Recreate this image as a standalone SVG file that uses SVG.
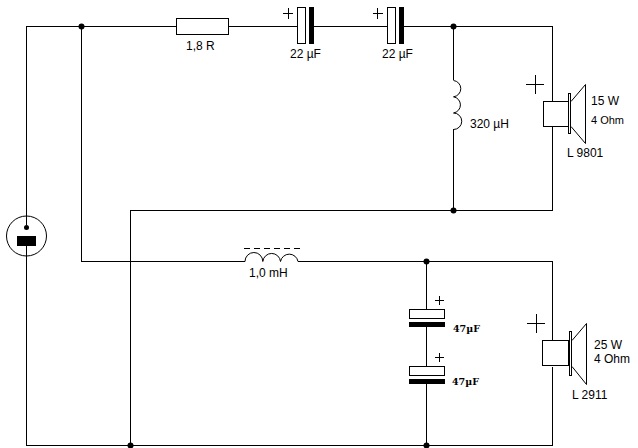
<svg xmlns="http://www.w3.org/2000/svg" width="638" height="448" viewBox="0 0 638 448">
<style>
.w{fill:none;stroke:#000;stroke-width:1}
.c{fill:none;stroke:#000;stroke-width:1}
.b{fill:#fff;stroke:#000;stroke-width:1;shape-rendering:crispEdges}
.k{fill:#000;stroke:none;shape-rendering:crispEdges}
.d{fill:#000}
.p{fill:none;stroke:#000;stroke-width:1;shape-rendering:crispEdges}
text{font-family:"Liberation Sans",Arial,sans-serif;font-size:12px;fill:#000}
text.s{font-family:"DejaVu Serif","Liberation Serif",serif;font-size:9.5px;font-weight:bold}
text.n{font-size:11px}
</style>
<rect width="638" height="448" fill="#fff"/>
<g id="connectors" class="w" shape-rendering="crispEdges">
<path class="w" d="M26.5 216V26.5H176.500M229 26.500H297.500M314 26.500H387.500M404 26.500H552.500V101.500"/>
<path class="w" d="M81.500 26.500V261.500H245M298 261.500H552.500V340.500"/>
<path class="w" d="M453.500 26.500V80M453.500 129V210.500"/>
<path class="w" d="M552.500 126.500V210.500H130.500V445.500"/>
<path class="w" d="M26.500 256V445.500H552.500V366.500"/>
<path class="w" d="M426.500 261.500V309.500M426.500 327V366.500M426.500 384V445.500"/>
</g>
<g id="junctions">
<circle class="d" cx="81.500" cy="26.500" r="3"/>
<circle class="d" cx="453.500" cy="26.500" r="3"/>
<circle class="d" cx="453.500" cy="210.500" r="3"/>
<circle class="d" cx="426.500" cy="261.500" r="3"/>
<circle class="d" cx="130.500" cy="445.500" r="3"/>
<circle class="d" cx="426.500" cy="445.500" r="3"/>
</g>
<g id="source">
<circle class="c" cx="26.500" cy="236" r="20"/>
<circle class="d" cx="26.500" cy="227.500" r="2.500"/>
<rect class="k" x="17" y="236" width="19" height="10"/>
<path class="p" d="M26.500 216V225M26.500 246V256"/>
</g>
<g id="R1">
<rect class="b" x="176.500" y="18.500" width="52" height="16"/>
<text x="186" y="50">1,8 R</text>
</g>
<g id="C1">
<rect class="b" x="297.500" y="7.500" width="8" height="36"/>
<rect class="k" x="309" y="7" width="5" height="37"/>
<path class="p" d="M283 13.500H293M288.500 8V19"/>
<text x="290" y="58">22 µF</text>
</g>
<g id="C2">
<rect class="b" x="387.500" y="7.500" width="8" height="36"/>
<rect class="k" x="399" y="7" width="5" height="37"/>
<path class="p" d="M373 13.500H383M377.500 8V19"/>
<text x="382" y="58">22 µF</text>
</g>
<g id="L1">
<path class="c" d="M453.500 80.500A8.200 8.200 0 0 1 453.500 96.800A8.200 8.200 0 0 1 453.500 113A8.200 8.200 0 0 1 453.500 129.500"/>
<text x="470" y="128">320 µH</text>
</g>
<g id="L2">
<path class="c" d="M245 261.500A8.900 9 0 0 1 262.800 261.500A8.900 9 0 0 1 280.500 261.500A8.900 9 0 0 1 298 261.500"/>
<path class="p" stroke-dasharray="6 4" d="M244 248.500H300"/>
<text x="249" y="277">1,0 mH</text>
</g>
<g id="C3">
<rect class="b" x="409.500" y="309.500" width="35" height="9"/>
<rect class="k" x="409" y="322" width="36" height="5"/>
<path class="p" d="M435 300.500H444M439.500 296V305"/>
<text class="s" x="453" y="332">47µF</text>
</g>
<g id="C4">
<rect class="b" x="409.500" y="366.500" width="35" height="9"/>
<rect class="k" x="409" y="379" width="36" height="5"/>
<path class="p" d="M435 357.500H444M439.500 353V362"/>
<text class="s" x="452" y="385">47µF</text>
</g>
<g id="SP1">
<rect class="b" x="543.500" y="101.500" width="25" height="25"/>
<rect class="b" x="568.500" y="93.500" width="2" height="40"/>
<path class="c" d="M571 101.500L585.500 84.500V143.500L571 126.500"/>
<path class="p" d="M526 84.500H544M535.500 75V94"/>
<text x="591" y="105">15 W</text>
<text class="n" x="591" y="124">4 Ohm</text>
<text x="567" y="157">L 9801</text>
</g>
<g id="SP2">
<rect class="b" x="542.500" y="340.500" width="26" height="25"/>
<rect class="b" x="569.500" y="331.500" width="2" height="44"/>
<path class="c" d="M572 340.500L586.500 323.500V384.500L572 366.500"/>
<path class="p" d="M527 323.500H545M536.500 314V333"/>
<text x="594" y="349">25 W</text>
<text x="594" y="363">4 Ohm</text>
<text x="572" y="399">L 2911</text>
</g>
</svg>
